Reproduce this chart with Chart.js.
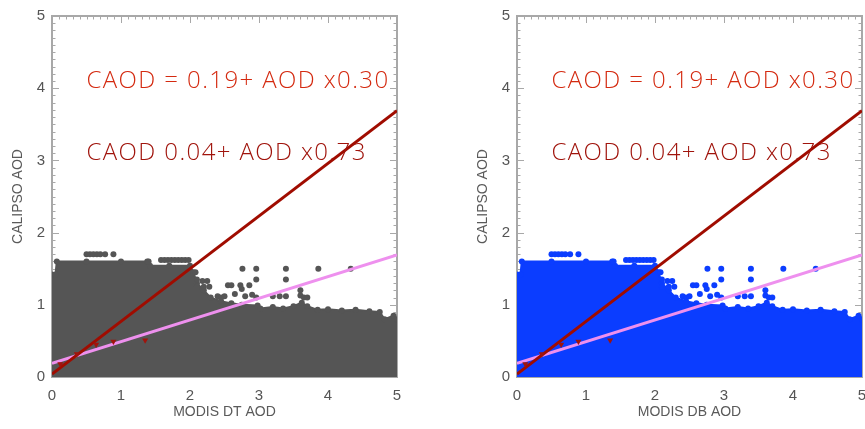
<!DOCTYPE html>
<html>
<head>
<meta charset="utf-8">
<script src="https://cdn.jsdelivr.net/npm/chart.js@4.4.0/dist/chart.umd.min.js"></script>
<style>
  html, body { margin: 0; padding: 0; background: #fff; overflow: hidden; }
  .panel { position: absolute; top: 0; width: 432px; height: 429px; }
</style>
</head>
<body>
<div class="panel" style="left:0"><canvas id="graficoDT"></canvas></div>
<div class="panel" style="left:465px"><canvas id="graficoDB"></canvas></div>
<script>
// axis ticks
var tickValues = [0, 1, 2, 3, 4, 5];

// upper edge of the dense point cloud (filled down to 0)
var cloudX  = [0, 0.05, 0.07, 0.5, 1.0, 1.38, 1.42, 1.7, 2.0, 2.05, 2.1, 2.2, 2.3, 2.45, 2.6, 2.75, 2.98, 3.02, 3.2, 3.35, 3.5, 3.62, 3.7, 3.85, 4.0, 4.2, 4.4, 4.6, 4.75, 4.82, 4.95, 5.0];
var cloudDT = [1.42, 1.42, 1.6, 1.6, 1.6, 1.6, 1.54, 1.54, 1.54, 1.45, 1.3, 1.2, 1.1, 1.05, 1.02, 1.0, 0.99, 0.95, 0.97, 0.95, 0.98, 1.03, 0.98, 0.93, 0.94, 0.92, 0.93, 0.91, 0.9, 0.8, 0.85, 0.8];
var cloudDB = [1.42, 1.42, 1.6, 1.6, 1.6, 1.6, 1.54, 1.54, 1.54, 1.45, 1.3, 1.2, 1.1, 1.05, 1.02, 1.0, 0.99, 0.95, 0.97, 0.95, 0.98, 1.03, 0.98, 0.93, 0.94, 0.92, 0.93, 0.91, 0.9, 0.8, 0.85, 0.8];

// isolated points above the cloud
var outX = [0.5, 0.55, 0.6, 0.65, 0.7, 0.77, 0.89, 1.4, 1.58, 1.63, 1.68, 1.73, 1.78, 1.83, 1.88, 1.93, 1.98,
            2.08, 2.1, 2.18, 2.25, 2.1, 2.2, 2.28, 2.4, 2.45, 2.5, 2.55, 2.6, 2.65, 2.73, 2.75, 2.8, 2.86, 2.9, 2.96,
            2.76, 2.96, 3.39, 3.86, 4.33, 2.96, 3.39, 3.2, 3.3, 3.39, 3.6, 3.6, 3.65, 3.7];
var outY = [1.7, 1.7, 1.7, 1.7, 1.7, 1.7, 1.7, 1.6, 1.62, 1.62, 1.62, 1.62, 1.62, 1.62, 1.62, 1.62, 1.62,
            1.45, 1.35, 1.33, 1.33, 1.25, 1.25, 1.25, 1.12, 1.1, 1.12, 1.27, 1.27, 1.15, 1.27, 1.22, 1.12, 1.27, 1.14, 1.1,
            1.5, 1.5, 1.5, 1.5, 1.5, 1.35, 1.35, 1.12, 1.12, 1.12, 1.2, 1.13, 1.1, 1.1];

// binned means (red triangles)
var binX = [0.12, 0.36, 0.64, 0.89, 1.35];
var binY = [0.18, 0.32, 0.45, 0.49, 0.51];

// regression fits: CAOD = a + AOD x b
var fitWide  = { a: 0.19, b: 0.30 };
var fitSteep = { a: 0.04, b: 0.73 };
var fitEnds  = [0, 5];

function pairs(xs, ys) {
  return xs.map(function (x, i) { return { x: x, y: ys[i] }; });
}
function fitLine(f) {
  return fitEnds.map(function (x) { return { x: x, y: f.a + f.b * x }; });
}

// inward IDL-style ticks and frame, drawn under the data
var boxTicks = {
  id: 'boxTicks',
  beforeDatasetsDraw: function (chart) {
    var c = chart.ctx, a = chart.chartArea, sx = chart.scales.x, sy = chart.scales.y;
    c.save();
    c.strokeStyle = '#a8a8a8';
    c.lineWidth = 1;
    for (var i = 0; i <= 50; i++) {
      var v = i / 10, len = (i % 10 === 0) ? 7 : 3.5;
      var px = Math.round(sx.getPixelForValue(v)) + 0.5;
      var py = Math.round(sy.getPixelForValue(v)) + 0.5;
      c.beginPath();
      c.moveTo(px, a.bottom); c.lineTo(px, a.bottom - len);
      c.moveTo(px, a.top); c.lineTo(px, a.top + len);
      c.moveTo(a.left, py); c.lineTo(a.left + len, py);
      c.moveTo(a.right, py); c.lineTo(a.right - len, py);
      c.stroke();
    }
    c.lineWidth = 2;
    c.strokeRect(a.left, a.top, a.right - a.left, a.bottom - a.top);
    c.restore();
  }
};

// fit equations written inside the plot
var fitText = {
  id: 'fitText',
  afterDatasetsDraw: function (chart) {
    var c = chart.ctx, sx = chart.scales.x, sy = chart.scales.y;
    c.save();
    c.font = '300 24px "Open Sans", "Liberation Sans", sans-serif';
    c.letterSpacing = '1.4px';
    c.textBaseline = 'alphabetic';
    c.fillStyle = '#d42a10';
    c.fillText('CAOD = ' + fitWide.a.toFixed(2) + '+ AOD x' + fitWide.b.toFixed(2), sx.getPixelForValue(0.5), sy.getPixelForValue(4.0));
    c.fillStyle = '#a0140c';
    c.fillText('CAOD ' + fitSteep.a.toFixed(2) + '+ AOD x' + fitSteep.b.toFixed(2), sx.getPixelForValue(0.5), sy.getPixelForValue(3.0));
    c.restore();
  }
};

function makeChart(id, cloudTop, cloudColor, xTitle) {
  var ctx = document.getElementById(id).getContext('2d');
  return new Chart(ctx, {
    type: 'scatter',
    data: {
      datasets: [
        {
          data: pairs(binX, binY),
          pointStyle: 'triangle',
          rotation: 180,
          pointRadius: 3.5,
          backgroundColor: '#a0140c',
          borderColor: '#a0140c',
          borderWidth: 0,
          order: 0
        },
        {
          data: fitLine(fitSteep),
          showLine: true,
          borderColor: '#a00c00',
          borderWidth: 3,
          pointRadius: 0,
          order: 1
        },
        {
          data: fitLine(fitWide),
          showLine: true,
          borderColor: '#ee90ee',
          borderWidth: 3,
          pointRadius: 0,
          order: 2
        },
        {
          data: pairs(outX, outY),
          pointRadius: 3,
          backgroundColor: cloudColor,
          borderWidth: 0,
          order: 3
        },
        {
          data: pairs(cloudX, cloudTop),
          showLine: true,
          fill: 'origin',
          backgroundColor: cloudColor,
          borderColor: cloudColor,
          borderWidth: 2,
          pointRadius: 3,
          pointBackgroundColor: cloudColor,
          pointBorderWidth: 0,
          clip: 0,
          order: 4
        }
      ]
    },
    options: {
      responsive: true,
      maintainAspectRatio: false,
      animation: false,
      layout: { padding: { top: 7, right: 35, bottom: 0, left: 0 } },
      plugins: {
        legend: { display: false },
        tooltip: { enabled: false }
      },
      scales: {
        x: {
          min: 0,
          max: 5,
          afterFit: function (s) { s.height = 52; },
          afterBuildTicks: function (s) { s.ticks = tickValues.map(function (v) { return { value: v }; }); },
          grid: { display: false, drawTicks: false },
          border: { display: false },
          ticks: { color: '#555555', font: { family: '"Liberation Sans", Arial, sans-serif', size: 15 }, padding: 10 },
          title: {
            display: true,
            text: xTitle,
            color: '#5a5a5a',
            font: { family: '"Liberation Sans", Arial, sans-serif', size: 14 },
            padding: { top: 0, bottom: 8 }
          }
        },
        y: {
          min: 0,
          max: 5,
          afterFit: function (s) { s.width = 52; },
          afterBuildTicks: function (s) { s.ticks = tickValues.map(function (v) { return { value: v }; }); },
          grid: { display: false, drawTicks: false },
          border: { display: false },
          ticks: { color: '#555555', font: { family: '"Liberation Sans", Arial, sans-serif', size: 15 }, padding: 7 },
          title: {
            display: true,
            text: 'CALIPSO AOD',
            color: '#5a5a5a',
            font: { family: '"Liberation Sans", Arial, sans-serif', size: 14 },
            padding: { top: 10, bottom: 0 }
          }
        }
      }
    },
    plugins: [boxTicks, fitText]
  });
}

var graficoDT = makeChart('graficoDT', cloudDT, '#555555', 'MODIS DT AOD');
var graficoDB = makeChart('graficoDB', cloudDB, '#0b3dff', 'MODIS DB AOD');
</script>
</body>
</html>
